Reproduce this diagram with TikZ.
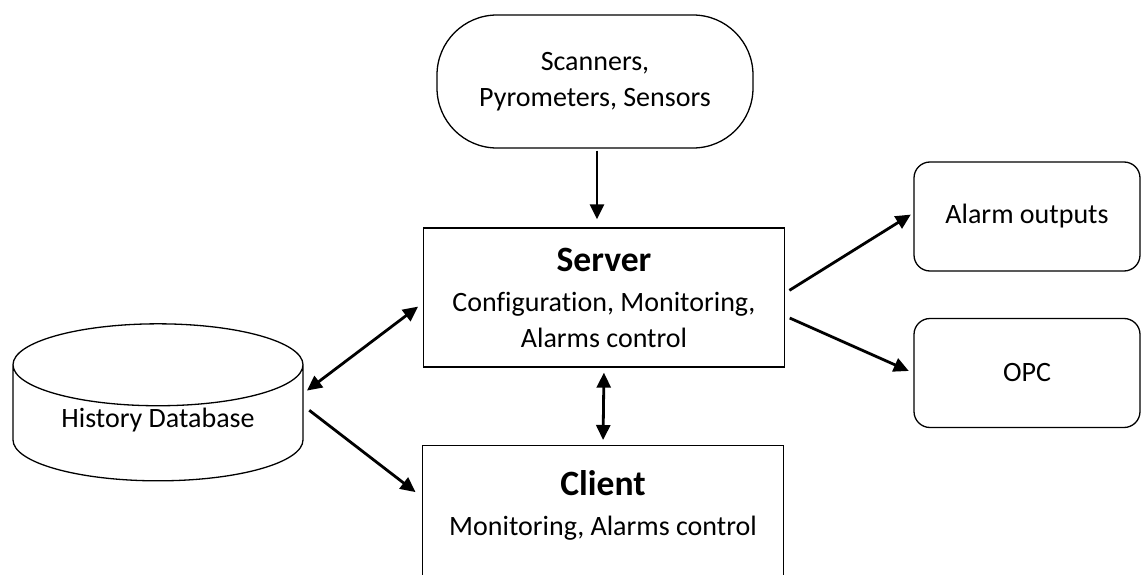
\documentclass[tikz,border=0pt]{standalone}
\usepackage{fontspec}
\setmainfont{Carlito}[Ligatures=NoCommon]
\usetikzlibrary{shapes.geometric, arrows.meta, positioning}

\newcommand{\diagbody}{\fontsize{28}{36}\selectfont}
\newcommand{\diaghead}{\fontsize{35.6}{40}\selectfont\bfseries}

\begin{document}
\begin{tikzpicture}[
  x=1pt, y=-1pt,
  srcbox/.style={rectangle, rounded corners=60pt, draw, line width=1.3pt,
    minimum width=316pt, minimum height=133pt, align=center, font=\diagbody},
  unitbox/.style={rectangle, draw, line width=1.3pt, minimum width=361pt,
    align=center, font=\diagbody},
  outbox/.style={rectangle, rounded corners=16pt, draw, line width=1.3pt,
    minimum width=226pt, minimum height=109pt, align=center, font=\diagbody},
  dbcyl/.style={cylinder, shape border rotate=90, aspect=0.41, draw,
    line width=1.3pt, minimum width=290pt, minimum height=157pt,
    align=center, font=\diagbody},
  arr/.style={-{Triangle[length=15pt, width=14pt]}, line width=2.8pt},
  dbl/.style={{Triangle[length=15pt, width=14pt]}-{Triangle[length=15pt, width=14pt]}, line width=2.8pt}
]
  \useasboundingbox (0,0) rectangle (1141,575);
  \clip (0,0) rectangle (1141,575);

  \node[srcbox] (sensors) at (595,81.5) {Scanners,\\Pyrometers, Sensors};

  \node[unitbox, minimum height=139pt] (server) at (604,297.5)
    {{\diaghead Server}\\[4pt]Configuration, Monitoring,\\Alarms control};
  \node[unitbox, anchor=north, inner ysep=25pt, text depth=70pt] (client) at (603,445)
    {{\diaghead Client}\\[4pt]Monitoring, Alarms control};

  % text lifted a little above the body centre
  \node[dbcyl] (history) at (158,427.5) {\raisebox{7.5pt}[\height][\depth]{History Database}};

  \node[outbox] (alarm) at (1027,216.5) {Alarm outputs};
  \node[outbox] (opc)   at (1027,373)   {OPC};

  \draw[arr, shorten <=2pt, shorten >=8pt] ([xshift=2pt]sensors.south) -- ([xshift=2pt]sensors.south |- server.north);
  \draw[dbl, shorten <=5pt, shorten >=5pt] (server.south) -- (client.north);
  \draw[dbl, shorten <=4pt, shorten >=6pt] ([yshift=34.5pt]history.east) -- ([yshift=-5.5pt]server.west);
  \draw[arr, shorten <=7pt, shorten >=8pt] ([yshift=21.5pt]history.east) -- ([yshift=-52pt]client.north west);
  \draw[arr, shorten <=5pt, shorten >=3pt] ([yshift=4.5pt]server.east) -- ([yshift=3.5pt]alarm.west);
  \draw[arr, shorten <=5pt, shorten >=5pt] ([yshift=-18.5pt]server.east) -- (opc.west);
\end{tikzpicture}
\end{document}
